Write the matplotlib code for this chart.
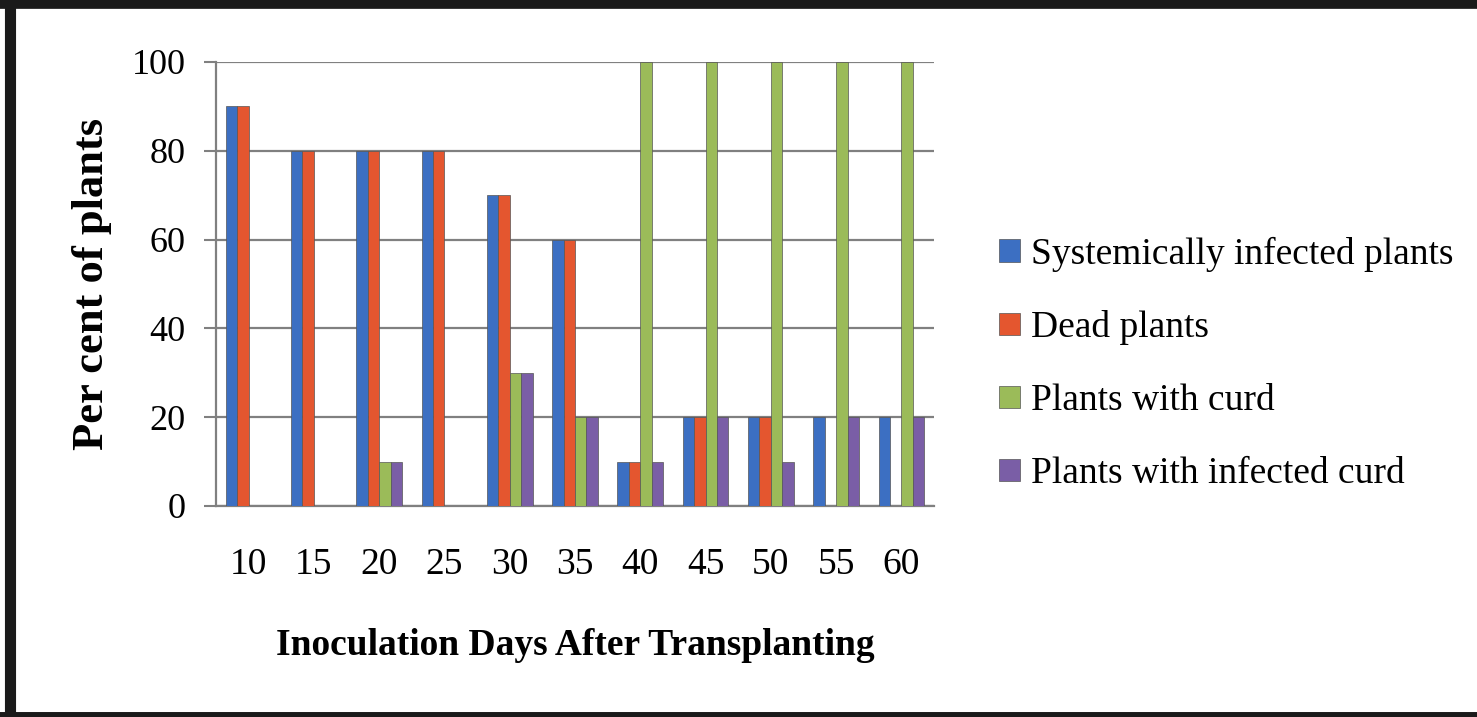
import matplotlib
matplotlib.use("agg")
import matplotlib.pyplot as plt
import numpy as np
from matplotlib.lines import Line2D

days = ["10", "15", "20", "25", "30", "35", "40", "45", "50", "55", "60"]
systemic = [90, 80, 80, 80, 70, 60, 10, 20, 20, 20, 20]
dead = [90, 80, 80, 80, 70, 60, 10, 20, 20, 0, 0]
with_curd = [0, 0, 10, 0, 30, 20, 100, 100, 100, 100, 100]
infected_curd = [0, 0, 10, 0, 30, 20, 10, 20, 10, 20, 20]

series = [
    ("Systemically infected plants", systemic, "#3c6fc2"),
    ("Dead plants", dead, "#e4562f"),
    ("Plants with curd", with_curd, "#9bbb59"),
    ("Plants with infected curd", infected_curd, "#7a5ea6"),
]

plt.rcParams["font.family"] = "Liberation Serif"

fig = plt.figure(figsize=(14.77, 7.17), dpi=100)
ax = fig.add_axes([216 / 1477, 1 - 506 / 717, (934 - 216) / 1477, (506 - 62) / 717])

x = np.arange(len(days))
width = 0.175
for i, (label, vals, color) in enumerate(series):
    ax.bar(x + (i - 1.5) * width, vals, width, color=color, label=label,
           edgecolor="#555555", linewidth=0.5, zorder=3)

ax.set_xlim(-0.5, len(days) - 0.5)
ax.set_ylim(0, 100)
ax.set_yticks(np.arange(0, 101, 20))
ax.set_xticks(x)
ax.set_xticklabels(days)
ax.grid(axis="y", color="#808080", linewidth=1.6, zorder=0)
ax.tick_params(axis="y", length=9, width=1.5, color="#808080", labelsize=26, pad=13)
ax.tick_params(axis="x", length=0, labelsize=27, pad=30)
for s in ["top", "right"]:
    ax.spines[s].set_visible(False)
for s in ["left", "bottom"]:
    ax.spines[s].set_color("#808080")
    ax.spines[s].set_linewidth(1.6)

ax.set_ylabel("Per cent of plants", fontsize=32, fontweight="bold", labelpad=14)
ax.set_xlabel("Inoculation Days After Transplanting", fontsize=27,
              fontweight="bold", labelpad=33)

ax.legend(loc="center left", bbox_to_anchor=(1.07, 0.32), frameon=False,
          fontsize=27, handlelength=0.55, handleheight=0.55, handletextpad=0.3,
          labelspacing=1.03, borderaxespad=0)

# dark frame round the figure
for xs, ys, lw in [([0.007, 0.007], [0, 1], 8), ([0, 1], [0.995, 0.995], 7),
                   ([0, 1], [0.003, 0.003], 5)]:
    fig.add_artist(Line2D(xs, ys, transform=fig.transFigure, color="#1a1a1a", lw=lw))

fig.savefig("out.png", dpi=100)
